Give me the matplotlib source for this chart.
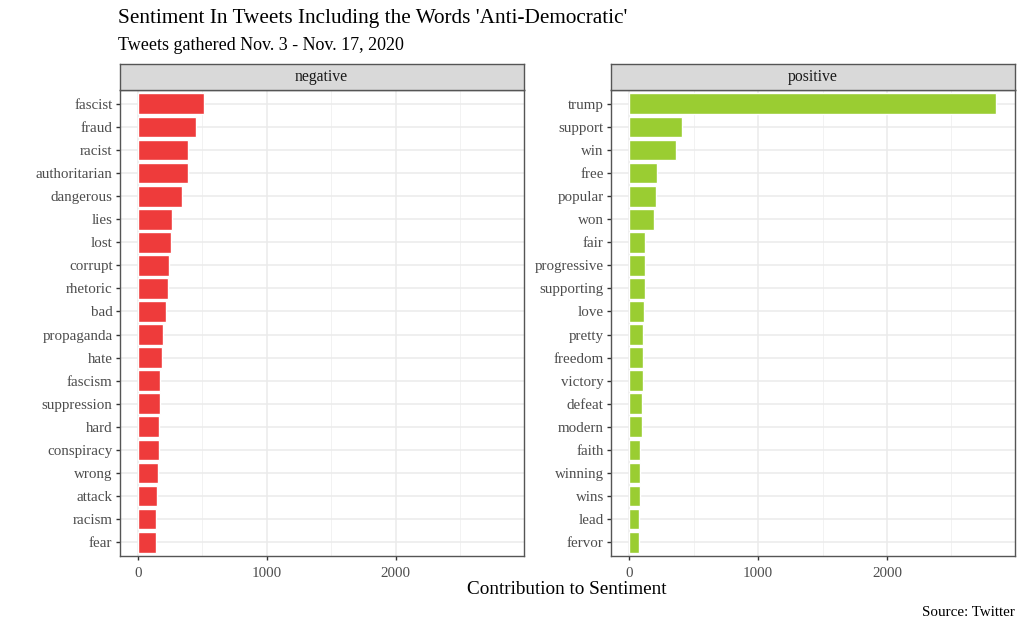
import matplotlib
matplotlib.use("Agg")
import matplotlib.pyplot as plt
from matplotlib.ticker import MultipleLocator

plt.rcParams['font.family'] = ['Liberation Serif', 'DejaVu Serif']

neg_words = ["fascist", "fraud", "racist", "authoritarian", "dangerous", "lies", "lost",
             "corrupt", "rhetoric", "bad", "propaganda", "hate", "fascism", "suppression",
             "hard", "conspiracy", "wrong", "attack", "racism", "fear"]
neg_values = [512, 450, 388, 386, 342, 268, 255, 242, 232, 219, 195, 188, 175, 170,
              165, 163, 157, 152, 144, 139]

pos_words = ["trump", "support", "win", "free", "popular", "won", "fair", "progressive",
             "supporting", "love", "pretty", "freedom", "victory", "defeat", "modern",
             "faith", "winning", "wins", "lead", "fervor"]
pos_values = [2848, 409, 365, 213, 212, 194, 127, 126, 122, 114, 109, 109, 108, 101,
              101, 88, 88, 87, 80, 78]

title = "Sentiment In Tweets Including the Words 'Anti-Democratic'"
subtitle = "Tweets gathered Nov. 3 - Nov. 17, 2020"
xlabel = "Contribution to Sentiment"
caption = "Source: Twitter"

fig = plt.figure(figsize=(10.24, 6.3), dpi=100)
W, H = 1024, 630

def fx(p):
    return p / W

def fy(p):
    return 1 - p / H

panel_top, panel_bot = 90, 556
strip_top = 64
lefts = [119.5, 610.7]
pw = 404

xmax = max(max(neg_values), max(pos_values))
xlim = (-0.05 * xmax, 1.05 * xmax)

panels = [("negative", neg_words, neg_values, "#EE3B3B"),
          ("positive", pos_words, pos_values, "#9ACD32")]

text_col = "#4D4D4D"
for (name, words, vals, col), L in zip(panels, lefts):
    ax = fig.add_axes([fx(L), fy(panel_bot), pw / W, (panel_bot - panel_top) / H])
    n = len(words)
    ypos = list(range(n - 1, -1, -1))
    ax.barh(ypos, vals, height=0.9, color=col, edgecolor="white", linewidth=1.0, zorder=3)
    ax.set_xlim(*xlim)
    ax.set_ylim(-0.6, n - 0.4)
    ax.set_yticks(ypos)
    ax.set_yticklabels(words)
    ax.xaxis.set_major_locator(MultipleLocator(1000))
    ax.xaxis.set_minor_locator(MultipleLocator(500))
    ax.grid(which="major", color="#EBEBEB", linewidth=1.1, zorder=0)
    ax.grid(which="minor", axis="x", color="#F2F2F2", linewidth=0.7, zorder=0)
    ax.set_axisbelow(True)
    for s in ax.spines.values():
        s.set_color("#555555")
        s.set_linewidth(1.0)
    ax.tick_params(axis="both", which="major", length=3, width=1.0, color="#333333",
                   labelsize=10.8, labelcolor=text_col, pad=2)
    ax.tick_params(axis="x", which="major", pad=5)
    ax.tick_params(axis="x", which="minor", length=0)
    # strip
    sax = fig.add_axes([fx(L), fy(panel_top), pw / W, (panel_top - strip_top) / H])
    sax.set_facecolor("#D9D9D9")
    sax.set_xticks([])
    sax.set_yticks([])
    for s in sax.spines.values():
        s.set_color("#555555")
        s.set_linewidth(1.0)
    sax.text(0.5, 0.5, name, ha="center", va="center", fontsize=11.3, color="#1A1A1A",
             transform=sax.transAxes)

fig.text(fx(118), fy(18), title, ha="left", va="center", fontsize=15.3, color="black")
fig.text(fx(118), fy(45), subtitle, ha="left", va="center", fontsize=13, color="black")
fig.text(fx((119.5 + 1014.7) / 2), fy(589), xlabel, ha="center", va="center",
         fontsize=13.8, color="black")
fig.text(fx(1015), fy(613), caption, ha="right", va="center", fontsize=10.8, color="black")

fig.savefig("out.png", dpi=100)
